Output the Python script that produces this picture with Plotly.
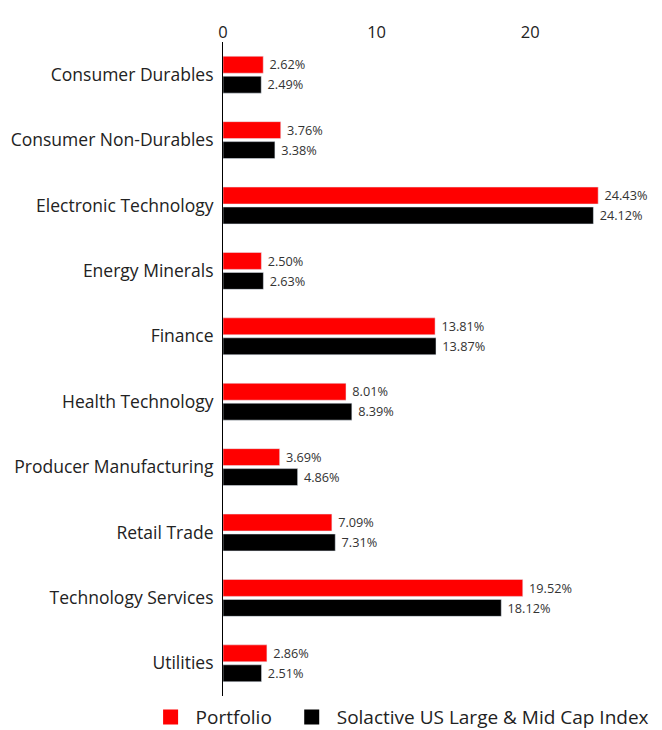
import plotly.graph_objects as go

categories = ["Consumer Durables", "Consumer Non-Durables", "Electronic Technology",
              "Energy Minerals", "Finance", "Health Technology",
              "Producer Manufacturing", "Retail Trade", "Technology Services", "Utilities"]
portfolio = [2.62, 3.76, 24.43, 2.50, 13.81, 8.01, 3.69, 7.09, 19.52, 2.86]
index_vals = [2.49, 3.38, 24.12, 2.63, 13.87, 8.39, 4.86, 7.31, 18.12, 2.51]
tick_vals = [0, 10, 20]
series_names = ["Portfolio", "Solactive US Large & Mid Cap Index"]
series_colors = ["#ff0000", "#000000"]

FONT = "Open Sans"

fig = go.Figure()
for name, vals, color in zip(series_names, [portfolio, index_vals], series_colors):
    fig.add_trace(go.Bar(
        y=categories, x=vals, orientation="h", name=name,
        marker_color=color, showlegend=False,
        text=[f" {v:.2f}%" for v in vals], textposition="outside",
        textfont=dict(size=13.5, color="#333333", family=FONT), cliponaxis=False,
    ))
# legend entries with larger square swatches
legend_labels = [series_names[0] + "\u00a0\u00a0", series_names[1]]
for name, color in zip(legend_labels, series_colors):
    fig.add_trace(go.Scatter(
        x=[None], y=[None], mode="markers", name=name,
        marker=dict(symbol="square", size=15, color=color),
    ))

fig.update_layout(
    width=654, height=730,
    barmode="group", bargap=0.39, bargroupgap=0.15,
    plot_bgcolor="white", paper_bgcolor="white",
    margin=dict(l=215, r=9, t=34, b=42, autoexpand=False),
    font=dict(family=FONT, color="#222222"),
    showlegend=True,
    legend=dict(orientation="h", x=-0.18, xanchor="left", y=-0.0324, yanchor="middle",
                font=dict(size=19, family=FONT, color="#222222"),
                traceorder="normal", itemwidth=40),
)
fig.update_xaxes(side="top", range=[0, 28], tickvals=tick_vals, showgrid=False,
                 zeroline=False, showline=False, ticks="", automargin=False,
                 tickfont=dict(size=16.5, family=FONT, color="#222222"))
fig.update_yaxes(autorange="reversed", showgrid=False, showline=True, linecolor="#000000",
                 linewidth=1, ticks="", ticklabelstandoff=5, automargin=False,
                 tickfont=dict(size=17.5, family=FONT, color="#222222"))

fig.write_html("out.html")
